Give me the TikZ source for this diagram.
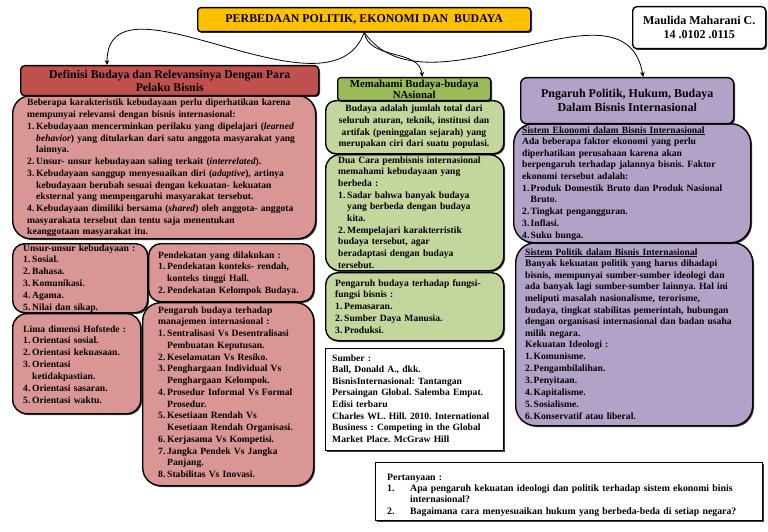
\documentclass[tikz,border=0pt]{standalone}
\usepackage{fontspec}
\setmainfont{Liberation Serif}
\usetikzlibrary{shadows,arrows.meta}
\definecolor{ytitle}{HTML}{FFC000}
\definecolor{rtitle}{HTML}{C0504D}
\definecolor{rbody}{HTML}{D99694}
\definecolor{gtitle}{HTML}{9BBB59}
\definecolor{gbody}{HTML}{C3D69B}
\definecolor{ptitle}{HTML}{B3A2C7}
\definecolor{pbody}{HTML}{B3A2C7}
\frenchspacing
\newcommand\itm[3][9pt]{\par\hangindent=#1\hangafter=1\noindent\makebox[#1][l]{#2}#3}
\tikzset{
  box/.style={draw=black, line width=1.4pt, anchor=north west, inner sep=0pt,
    drop shadow={shadow xshift=1.3pt, shadow yshift=-1.3pt, opacity=0.75, fill=black}},
  txt/.style={anchor=base west, inner sep=0pt, align=left,
    font=\bfseries\fontsize{9.6}{11.6}\selectfont,
    execute at begin node={\frenchspacing\setlength\parskip{0.3pt}}},
  conn/.style={line width=0.8pt, -{Stealth[length=5pt,width=4.5pt]}}
}
\begin{document}
\begin{tikzpicture}[x=1pt,y=-1pt]
\useasboundingbox (0,0) rectangle (768,532);
\path[fill=white] (0,0) rectangle (768,532);

% main title and author
\node[box, fill=ytitle, rounded corners=3pt, minimum width=333pt, minimum height=24pt,
  font=\bfseries\fontsize{11.9}{13}\selectfont] (title) at (197,7) {PERBEDAAN POLITIK, EKONOMI DAN\ \ BUDAYA};
\node[box, fill=white, rounded corners=4pt, minimum width=133pt, minimum height=42pt, align=center,
  font=\bfseries\fontsize{12}{14}\selectfont] (author) at (632,6) {Maulida Maharani C.\\14 .0102 .0115};

% red column
\node[box, fill=rbody, rounded corners=18pt, minimum width=303pt, minimum height=143pt] (rb1) at (12,95) {};
\node[box, fill=rtitle, rounded corners=4pt, minimum width=298pt, minimum height=30pt, align=center,
  font=\bfseries\fontsize{11.8}{13.5}\selectfont] (rt) at (20,65) {Definisi Budaya dan Relevansinya Dengan Para\\Pelaku Bisnis};
\node[box, fill=rbody, rounded corners=12pt, minimum width=135pt, minimum height=69pt] (rb2) at (12,243) {};
\node[box, fill=rbody, rounded corners=12pt, minimum width=165pt, minimum height=58pt] (rb3) at (148,243) {};
\node[box, fill=rbody, rounded corners=14pt, minimum width=128pt, minimum height=100pt] (rb4) at (12,313) {};
\node[box, fill=rbody, rounded corners=18pt, minimum width=171pt, minimum height=183pt] (rb5) at (142,302) {};

% green column
\node[box, fill=gbody, rounded corners=14pt, minimum width=178pt, minimum height=116pt] (gb2) at (325,154) {};
\node[box, fill=gbody, rounded corners=10pt, minimum width=178pt, minimum height=53pt] (gb1) at (325,100) {};
\node[box, fill=gtitle, rounded corners=3pt, minimum width=153pt, minimum height=23pt, align=center,
  font=\bfseries\fontsize{10.8}{11.5}\selectfont] (gt) at (337,77) {Memahami Budaya-budaya\\NAsional};
\node[box, fill=gbody, rounded corners=12pt, minimum width=178pt, minimum height=68pt] (gb3) at (325,272) {};
\node[box, fill=white, minimum width=178pt, minimum height=102pt] (src) at (325,348) {};

% purple column
\node[box, fill=pbody, rounded corners=20pt, minimum width=237pt, minimum height=183pt] (pb2) at (515,242) {};
\node[box, fill=pbody, rounded corners=20pt, minimum width=237pt, minimum height=119pt] (pb1) at (513,123) {};
\node[box, fill=ptitle, rounded corners=6pt, minimum width=213pt, minimum height=46pt, align=center,
  font=\bfseries\fontsize{12}{14}\selectfont] (pt) at (520,77) {Pngaruh Politik, Hukum, Budaya\\Dalam Bisnis Internasional};

% questions
\node[box, fill=white, minimum width=387pt, minimum height=58pt] (qb) at (375,462) {};

% connectors
\draw[conn] (title.south) to[out=-110, in=90] ([xshift=87pt]rt.north west);
\draw[conn] (title.south) to[out=-80, in=95] ([xshift=8pt]gt.north);
\draw[conn] (title.south) to[out=-55, in=100] ([xshift=16pt]pt.north);

% texts red
\node[txt, text width=292pt] (rb1t) at (27,106) {Beberapa karakteristik kebudayaan perlu diperhatikan karena\break mempunyai relevansi dengan bisnis internasional:
\itm{1.}{Kebudayaan mencerminkan perilaku yang dipelajari (\textit{learned}\break \textit{behavior}) yang ditularkan dari satu anggota masyarakat yang\break lainnya.}
\itm{2.}{Unsur- unsur kebudayaan saling terkait (\textit{interrelated}).}
\itm{3.}{Kebudayaan sanggup menyesuaikan diri (\textit{adaptive}), artinya\break kebudayaan berubah sesuai dengan kekuatan- kekuatan\break eksternal yang mempengaruhi masyarakat tersebut.}
\itm{4.}{Kebudayaan dimiliki bersama (\textit{shared}) oleh anggota- anggota\break masyarakata tersebut dan tentu saja menentukan\break keanggotaan masyarakat itu.}};

\node[txt, text width=125pt] (rb2t) at (23,251) {Unsur-unsur kebudayaan :
\itm{1.}{Sosial.}
\itm{2.}{Bahasa.}
\itm{3.}{Komunikasi.}
\itm{4.}{Agama.}
\itm{5.}{Nilai dan sikap.}};

\node[txt, text width=155pt] (rb3t) at (158,258) {Pendekatan yang dilakukan :
\itm{1.}{Pendekatan konteks- rendah,\break konteks tinggi Hall.}
\itm{2.}{Pendekatan Kelompok Budaya.}};

\node[txt, text width=118pt] (rb4t) at (23,332) {Lima dimensi Hofstede :
\itm{1.}{Orientasi sosial.}
\itm{2.}{Orientasi kekuasaan.}
\itm{3.}{Orientasi\break ketidakpastian.}
\itm{4.}{Orientasi sasaran.}
\itm{5.}{Orientasi waktu.}};

\node[txt, text width=155pt] (rb5t) at (158,313) {Pengaruh budaya terhadap\break manajemen internasional :
\itm{1.}{Sentralisasi Vs Desentralisasi\break Pembuatan Keputusan.}
\itm{2.}{Keselamatan Vs Resiko.}
\itm{3.}{Penghargaan Individual Vs\break Penghargaan Kelompok.}
\itm{4.}{Prosedur Informal Vs Formal\break Prosedur.}
\itm{5.}{Kesetiaan Rendah Vs\break Kesetiaan Rendah Organisasi.}
\itm{6.}{Kerjasama Vs Kompetisi.}
\itm{7.}{Jangka Pendek Vs Jangka\break Panjang.}
\itm{8.}{Stabilitas Vs Inovasi.}};

% texts green
\node[txt, anchor=base, align=center, text width=178pt] (gb1t) at (414,112) {Budaya adalah jumlah total dari\\seluruh aturan, teknik, institusi dan\\artifak (peninggalan sejarah) yang\\merupakan ciri dari suatu populasi.};

\node[txt, text width=165pt] (gb2t) at (338,163) {Dua Cara pembisnis internasional\break memahami kebudayaan yang\break berbeda :
\itm{1.}{Sadar bahwa banyak budaya\break yang berbeda dengan budaya\break kita.}
\itm{2.}{Mempelajari karakterristik\break budaya tersebut, agar\break beradaptasi dengan budaya\break tersebut.}};

\node[txt, text width=165pt] (gb3t) at (335,286) {Pengaruh budaya terhadap fungsi-\break fungsi bisnis :
\itm{1.}{Pemasaran.}
\itm{2.}{Sumber Daya Manusia.}
\itm{3.}{Produksi.}};

\node[txt, text width=172pt] (srct) at (332,361) {Sumber :\break Ball, Donald A., dkk.\break BisnisInternasional: Tantangan\break Persaingan Global. Salemba Empat.\break Edisi terbaru\break Charles WL. Hill. 2010. International\break Business : Competing in the Global\break Market Place. McGraw Hill};

% texts purple
\node[txt, text width=228pt] (pb1t) at (522,133) {\underline{Sistem Ekonomi dalam Bisnis Internasional}\break Ada beberapa faktor ekonomi yang perlu\break diperhatikan perusahaan karena akan\break berpengaruh terhadap jalannya bisnis. Faktor\break ekonomi tersebut adalah:
\itm[8.5pt]{1.}{Produk Domestik Bruto dan Produk Nasional\break Bruto.}
\itm[8.5pt]{2.}{Tingkat pengangguran.}
\itm[8.5pt]{3.}{Inflasi.}
\itm[8.5pt]{4.}{Suku bunga.}};

\node[txt, text width=225pt] (pb2t) at (525,255) {\underline{Sistem Politik dalam Bisnis Internasional}\break Banyak kekuatan politik yang harus dihadapi\break bisnis, mempunyai sumber-sumber ideologi dan\break ada banyak lagi sumber-sumber lainnya. Hal ini\break meliputi masalah nasionalisme, terorisme,\break budaya, tingkat stabilitas pemerintah, hubungan\break dengan organisasi internasional dan badan usaha\break milik negara.\break Kekuatan Ideologi :
\itm[8.5pt]{1.}{Komunisme.}
\itm[8.5pt]{2.}{Pengambilalihan.}
\itm[8.5pt]{3.}{Penyitaan.}
\itm[8.5pt]{4.}{Kapitalisme.}
\itm[8.5pt]{5.}{Sosialisme.}
\itm[8.5pt]{6.}{Konservatif atau liberal.}};

% questions text
\node[txt, text width=372pt, font=\bfseries\fontsize{9.8}{11.3}\selectfont] (qt) at (387,480) {Pertanyaan :
\itm[23pt]{1.}{Apa pengaruh kekuatan ideologi dan politik terhadap sistem ekonomi binis\break internasional?}
\itm[23pt]{2.}{Bagaimana cara menyesuaikan hukum yang berbeda-beda di setiap negara?}};
\end{tikzpicture}
\end{document}
